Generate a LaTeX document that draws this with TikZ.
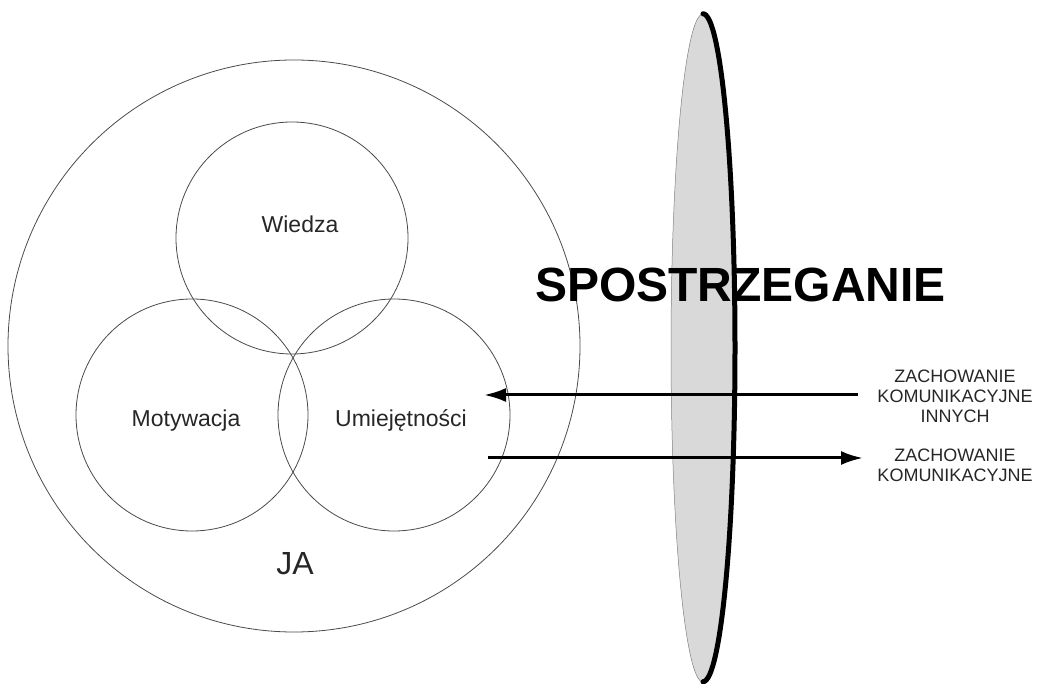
\documentclass[tikz,border=0pt]{standalone}
\usepackage{fontspec}
\setmainfont{Liberation Sans}
\usetikzlibrary{arrows.meta,shapes.geometric}
\definecolor{lensgray}{HTML}{D9D9D9}
\definecolor{ringgray}{HTML}{4A4A4A}
\tikzset{
  ring/.style={circle,draw=ringgray,line width=0.8pt,inner sep=0pt},
  lbl/.style={anchor=base,font=\fontsize{23}{28}\selectfont,text=black!85},
  side/.style={anchor=base,align=center,font=\fontsize{18}{20}\selectfont,text=black!85},
  flow/.style={line width=3pt,-{Latex[length=22pt,width=14pt]}}
}
\begin{document}
\begin{tikzpicture}[x=1pt,y=-1pt]
\useasboundingbox (0,0) rectangle (1037,684);
% circles
\node[ring,minimum size=572pt] (ja) at (294,346) {};
\node[ring,minimum size=232pt] (wiedza) at (292,238) {};
\node[ring,minimum size=232pt] (motyw) at (192,415) {};
\node[ring,minimum size=232pt] (umiej) at (394,415) {};
% lens
\node[ellipse,fill=lensgray,draw=gray,line width=0.5pt,minimum width=64pt,minimum height=668pt,inner sep=0pt] (lens) at (703,348) {};
\draw[line width=5pt,line cap=round] (lens.north) arc[start angle=90,end angle=-90,x radius=32pt,y radius=334pt];
% labels
\node[lbl] (tw) at (300,233) {Wiedza};
\node[lbl] (tm) at (186,427) {Motywacja};
\node[lbl] (tu) at (401,427) {Umiejętności};
\node[anchor=base,font=\fontsize{32}{36}\selectfont,text=black!85] (tja) at (295,575) {JA};
\node[anchor=base,font=\fontsize{48}{52}\bfseries\selectfont] (spos) at (740.5,302) {SPOSTRZEGANIE};
% side labels
\node[side] (z1) at (955,383) {ZACHOWANIE};
\node[side] (z2) at (955,403) {KOMUNIKACYJNE};
\node[side] (z3) at (955,423) {INNYCH};
\node[side] (y1) at (955,462) {ZACHOWANIE};
\node[side] (y2) at (955,482) {KOMUNIKACYJNE};
% arrows
\coordinate (inS) at (858,395);
\coordinate (inE) at (484,395);
\coordinate (outS) at (488,458);
\coordinate (outE) at (863,458);
\draw[flow] (inS) -- (inE);
\draw[flow] (outS) -- (outE);
\end{tikzpicture}
\end{document}
